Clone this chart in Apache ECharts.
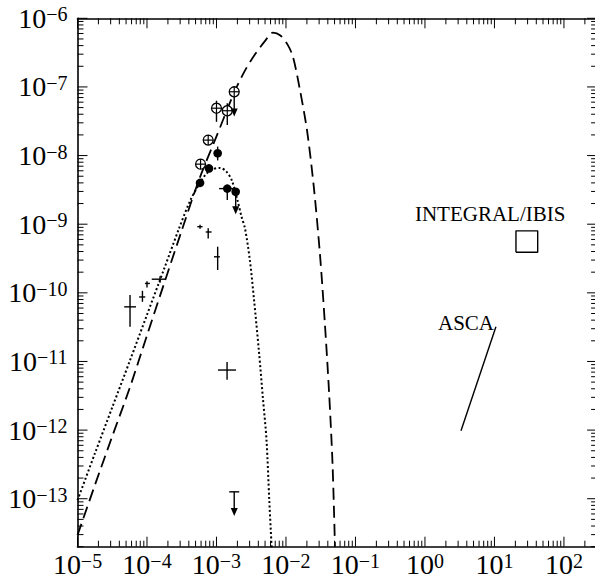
<!DOCTYPE html>
<html>
<head>
<meta charset="utf-8">
<script src="https://cdn.jsdelivr.net/npm/echarts@6/dist/echarts.min.js"></script>
<style>
html, body { margin: 0; padding: 0; background: #fff; }
#chart { width: 595px; height: 583px; }
</style>
</head>
<body>
<div id="chart"></div>
<script>
// Axis limits (energy on x, flux on y), both logarithmic
const xMin = 1e-5, xMax = 300;
const yMin = 2e-14, yMax = 1e-6;
const xExponents = [-5, -4, -3, -2, -1, 0, 1, 2];
const yExponents = [-13, -12, -11, -10, -9, -8, -7, -6];

// Model spectra
const dashedX = [1e-5, 1.78e-5, 3.16e-5, 5.62e-5, 1e-4, 1.78e-4, 3.16e-4, 5.62e-4, 1e-3, 1.78e-3,
  2.51e-3, 3.55e-3, 5.01e-3, 6.46e-3, 8.32e-3, 1.05e-2, 1.26e-2, 1.58e-2, 2.0e-2, 2.51e-2,
  3.09e-2, 3.63e-2, 4.17e-2, 4.68e-2, 5.07e-2];
const dashedY = [2.95e-14, 1.58e-13, 8.1e-13, 4.07e-12, 2.4e-11, 1.41e-10, 8.1e-10, 4.47e-9, 1.9e-8, 8.1e-8,
  1.66e-7, 2.95e-7, 4.68e-7, 6.17e-7, 5.62e-7, 4.17e-7, 2.75e-7, 9.3e-8, 2.4e-8, 3.55e-9,
  3.55e-10, 3.55e-11, 3.55e-12, 3.16e-13, 2.0e-14];
const dottedX = [1e-5, 1.78e-5, 3.16e-5, 5.62e-5, 1e-4, 1.78e-4, 2.82e-4, 4.17e-4, 5.62e-4, 7.08e-4,
  8.91e-4, 1.12e-3, 1.38e-3, 1.66e-3, 2.04e-3, 2.29e-3, 2.57e-3, 3.02e-3, 3.47e-3, 4.07e-3,
  4.68e-3, 5.25e-3, 5.75e-3, 6.22e-3];
const dottedY = [9.5e-14, 4.57e-13, 2.14e-12, 1.0e-11, 4.79e-11, 2.29e-10, 8.1e-10, 2.19e-9, 3.8e-9, 5.37e-9,
  6.31e-9, 6.61e-9, 5.89e-9, 4.37e-9, 2.09e-9, 1.29e-9, 8.7e-10, 3.02e-10, 7.9e-11, 1.45e-11,
  2.75e-12, 7.1e-13, 9.5e-14, 1.95e-14];

// Open circled points: value, error range, upper-limit arrow tip
const openX = [5.9e-4, 7.6e-4, 1.0e-3, 1.43e-3, 1.80e-3];
const openY = [7.5e-9, 1.68e-8, 4.9e-8, 4.5e-8, 8.5e-8];
const openLo = [null, 1.45e-8, 3.1e-8, 2.8e-8, null];
const openHi = [null, 1.95e-8, 6.3e-8, 5.8e-8, null];
const openLimit = [null, null, null, null, 3.7e-8];

// Filled points
const fillX = [5.8e-4, 7.8e-4, 1.04e-3, 1.43e-3, 1.89e-3];
const fillY = [4.0e-9, 6.5e-9, 1.08e-8, 3.3e-9, 2.97e-9];
const fillXLo = [null, null, null, 1.09e-3, null];
const fillXHi = [null, null, null, 1.73e-3, null];
const fillYLo = [null, null, 8.5e-9, 2.25e-9, null];
const fillYHi = [null, null, 1.35e-8, 3.7e-9, null];
const fillLimit = [null, null, null, null, 1.4e-9];

// Bare error crosses
const crossX = [5.7e-5, 8.6e-5, 1.0e-4, 1.54e-4, 5.8e-4, 7.6e-4, 1.04e-3, 1.42e-3];
const crossY = [6.25e-11, 8.7e-11, 1.37e-10, 1.58e-10, 9.2e-10, 7.7e-10, 3.35e-10, 7.5e-12];
const crossXLo = [4.7e-5, 7.7e-5, 9.35e-5, 1.17e-4, 5.3e-4, 7.0e-4, 9.2e-4, 1.05e-3];
const crossXHi = [6.95e-5, 9.45e-5, 1.1e-4, 1.82e-4, 6.3e-4, 8.5e-4, 1.12e-3, 1.91e-3];
const crossYLo = [3.2e-11, 7.4e-11, 1.2e-10, 1.4e-10, 8.6e-10, 6.2e-10, 2.15e-10, 5.4e-12];
const crossYHi = [9.3e-11, 1.07e-10, 1.48e-10, 1.75e-10, 9.8e-10, 8.7e-10, 4.7e-10, 9.8e-12];

// Capped upper limit
const limitX = [1.8e-3];
const limitY = [1.26e-13];
const limitTip = [5.6e-14];

// INTEGRAL/IBIS box and ASCA power-law segment
const ibisX = [20.4, 41.9];
const ibisY = [3.9e-10, 8.0e-10];
const ascaX = [3.3, 10.5];
const ascaY = [9.8e-13, 3.2e-11];

// Instrument names
const noteText = ['INTEGRAL/IBIS', 'ASCA'];
const noteX = [0.718, 1.54];
const noteY = [1.39e-9, 3.6e-11];

const SERIF = '"Liberation Serif", "Times New Roman", serif';
const INK = '#000';

function seg(x1, y1, x2, y2, w) {
  return { type: 'line', shape: { x1: x1, y1: y1, x2: x2, y2: y2 }, style: { stroke: INK, lineWidth: w || 1.4 } };
}
function head(x, tipY) {
  return { type: 'polygon', shape: { points: [[x - 3.5, tipY - 8], [x + 3.5, tipY - 8], [x, tipY]] }, style: { fill: INK } };
}
function expText(n) {
  return '{b|10}{s|' + (n < 0 ? '\u2212' + (-n) : String(n)) + '}';
}
const labelRich = {
  b: { fontFamily: SERIF, fontSize: 28, lineHeight: 28, padding: [3, 0, 0, 0], verticalAlign: 'bottom', fill: INK },
  s: { fontFamily: SERIF, fontSize: 20, lineHeight: 20, verticalAlign: 'top', fill: INK }
};

// Frame ticks on all four sides: decades long, 2..9 short
function tickItem(params, api) {
  const cs = params.coordSys;
  const left = cs.x, right = cs.x + cs.width, top = cs.y, bottom = cs.y + cs.height;
  const kids = [];
  for (let n = -5; n <= 2; n++) {
    for (let k = 1; k <= 9; k++) {
      const v = k * Math.pow(10, n);
      if (v < xMin || v > xMax) continue;
      const len = k === 1 ? 10 : 6;
      const px = api.coord([v, yMax])[0];
      kids.push(seg(px, bottom, px, bottom - len, 1));
      kids.push(seg(px, top, px, top + len, 1));
    }
  }
  for (let n = -14; n <= -6; n++) {
    for (let k = 1; k <= 9; k++) {
      const v = k * Math.pow(10, n);
      if (v < yMin || v > yMax) continue;
      const len = k === 1 ? 10 : 6;
      const py = api.coord([xMin, v])[1];
      kids.push(seg(left, py, left + len, py, 1));
      kids.push(seg(right, py, right - len, py, 1));
    }
  }
  return { type: 'group', children: kids };
}

function xLabelItem(params, api) {
  const cs = params.coordSys;
  const p = api.coord([api.value(0), api.value(1)]);
  return {
    type: 'text', x: p[0], y: cs.y + cs.height + 4,
    style: { text: expText(xExponents[params.dataIndex]), rich: labelRich, align: 'center', verticalAlign: 'top' }
  };
}
function yLabelItem(params, api) {
  const cs = params.coordSys;
  const p = api.coord([api.value(0), api.value(1)]);
  return {
    type: 'text', x: cs.x - 10, y: p[1],
    style: { text: expText(yExponents[params.dataIndex]), rich: labelRich, align: 'right', verticalAlign: 'middle' }
  };
}

function crossItem(params, api) {
  const i = params.dataIndex;
  const c = api.coord([api.value(0), api.value(1)]);
  const xl = api.coord([crossXLo[i], crossY[i]])[0], xh = api.coord([crossXHi[i], crossY[i]])[0];
  const yl = api.coord([crossX[i], crossYLo[i]])[1], yh = api.coord([crossX[i], crossYHi[i]])[1];
  return { type: 'group', children: [seg(xl, c[1], xh, c[1]), seg(c[0], yl, c[0], yh)] };
}

function openItem(params, api) {
  const i = params.dataIndex;
  const c = api.coord([api.value(0), api.value(1)]);
  const r = 5;
  const kids = [];
  if (openLo[i] != null) {
    kids.push(seg(c[0], api.coord([openX[i], openLo[i]])[1], c[0], api.coord([openX[i], openHi[i]])[1]));
  }
  if (openLimit[i] != null) {
    const t = api.coord([openX[i], openLimit[i]])[1];
    kids.push(seg(c[0], c[1], c[0], t - 7));
    kids.push(head(c[0], t));
  }
  kids.push({ type: 'circle', shape: { cx: c[0], cy: c[1], r: r }, style: { fill: '#fff', stroke: INK, lineWidth: 1.3 } });
  kids.push(seg(c[0] - r, c[1], c[0] + r, c[1], 1.2));
  kids.push(seg(c[0], c[1] - r, c[0], c[1] + r, 1.2));
  return { type: 'group', children: kids };
}

function fillItem(params, api) {
  const i = params.dataIndex;
  const c = api.coord([api.value(0), api.value(1)]);
  const kids = [];
  if (fillXLo[i] != null) {
    kids.push(seg(api.coord([fillXLo[i], fillY[i]])[0], c[1], api.coord([fillXHi[i], fillY[i]])[0], c[1]));
  }
  if (fillYLo[i] != null) {
    kids.push(seg(c[0], api.coord([fillX[i], fillYLo[i]])[1], c[0], api.coord([fillX[i], fillYHi[i]])[1]));
  }
  if (fillLimit[i] != null) {
    const t = api.coord([fillX[i], fillLimit[i]])[1];
    kids.push(seg(c[0], c[1], c[0], t - 7));
    kids.push(head(c[0], t));
  }
  kids.push({ type: 'circle', shape: { cx: c[0], cy: c[1], r: 4.3 }, style: { fill: INK } });
  return { type: 'group', children: kids };
}

function limitItem(params, api) {
  const i = params.dataIndex;
  const c = api.coord([api.value(0), api.value(1)]);
  const t = api.coord([limitX[i], limitTip[i]])[1];
  return { type: 'group', children: [seg(c[0] - 5, c[1], c[0] + 5, c[1]), seg(c[0], c[1], c[0], t - 7), head(c[0], t)] };
}

function noteItem(params, api) {
  const p = api.coord([api.value(0), api.value(1)]);
  return {
    type: 'text', x: p[0], y: p[1],
    style: { text: noteText[params.dataIndex], fontFamily: SERIF, fontSize: 21, fill: INK, align: 'left', verticalAlign: 'middle' }
  };
}

const frameLine = { show: true, onZero: false, lineStyle: { color: INK, width: 1.6 } };
function axis(pos, lo, hi) {
  return {
    type: 'log', logBase: 10, position: pos, min: lo, max: hi,
    axisLine: frameLine, axisTick: { show: false }, axisLabel: { show: false },
    splitLine: { show: false }, minorTick: { show: false }, minorSplitLine: { show: false }
  };
}

const zip = (xs, ys) => xs.map((x, i) => [x, ys[i]]);

const option = {
  animation: false,
  backgroundColor: '#fff',
  grid: { left: 77.5, top: 18.3, width: 519.6, height: 528.4, outerBoundsMode: 'none', containLabel: false },
  xAxis: [axis('bottom', xMin, xMax), axis('top', xMin, xMax)],
  yAxis: [axis('left', yMin, yMax), axis('right', yMin, yMax)],
  series: [
    { type: 'line', data: zip(dashedX, dashedY), showSymbol: false, symbol: 'none', smooth: 0.3, clip: true,
      lineStyle: { color: INK, width: 1.8, type: [12, 6] }, z: 2 },
    { type: 'line', data: zip(dottedX, dottedY), showSymbol: false, symbol: 'none', smooth: 0.3, clip: true,
      lineStyle: { color: INK, width: 2, type: [2, 2.4] }, z: 2 },
    { type: 'line', data: [[ibisX[0], ibisY[0]], [ibisX[1], ibisY[0]], [ibisX[1], ibisY[1]], [ibisX[0], ibisY[1]], [ibisX[0], ibisY[0]]],
      showSymbol: false, symbol: 'none', lineStyle: { color: INK, width: 1.4 }, z: 3 },
    { type: 'line', data: zip(ascaX, ascaY), showSymbol: false, symbol: 'none', lineStyle: { color: INK, width: 1.4 }, z: 3 },
    { type: 'custom', renderItem: crossItem, data: zip(crossX, crossY), z: 4 },
    { type: 'custom', renderItem: limitItem, data: zip(limitX, limitY), z: 4 },
    { type: 'custom', renderItem: fillItem, data: zip(fillX, fillY), z: 5 },
    { type: 'custom', renderItem: openItem, data: zip(openX, openY), z: 5 },
    { type: 'custom', renderItem: noteItem, data: zip(noteX, noteY), z: 6 },
    { type: 'custom', renderItem: tickItem, data: [[xMin, yMin]], z: 6 },
    { type: 'custom', renderItem: xLabelItem, data: xExponents.map(n => [Math.pow(10, n), yMin]), clip: false, z: 6 },
    { type: 'custom', renderItem: yLabelItem, data: yExponents.map(n => [xMin, Math.pow(10, n)]), clip: false, z: 6 }
  ]
};

const chart = echarts.init(document.getElementById('chart'), null, { renderer: 'svg', width: 595, height: 583 });
chart.setOption(option);
</script>
</body>
</html>
